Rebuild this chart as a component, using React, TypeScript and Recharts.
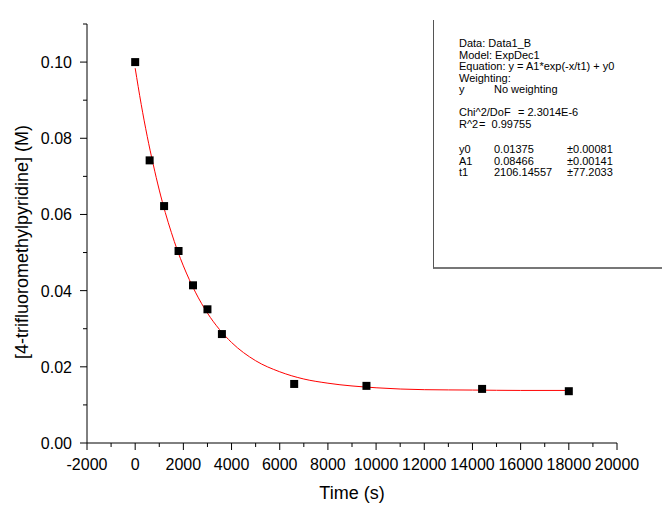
import React from "react";
import {
  ComposedChart,
  Scatter,
  Line,
  XAxis,
  YAxis,
  Label,
} from "recharts";

// measured points
const timeS = [0, 600, 1200, 1800, 2400, 3000, 3600, 6600, 9600, 14400, 18000];
const concM = [0.1, 0.0742, 0.0622, 0.0504, 0.0414, 0.0351, 0.0286, 0.0155, 0.015, 0.0142, 0.0136];

// red fit line
const fitTime = [0, 250, 500, 750, 1000, 1250, 1500, 1750, 2000, 2500, 3000, 3500, 4000, 5000, 6000, 7000, 8000, 10000, 12000, 14000, 16000, 18000];
const fitConc = [0.0984, 0.0889, 0.0805, 0.0731, 0.0664, 0.0605, 0.0553, 0.0506, 0.0465, 0.0396, 0.0341, 0.0298, 0.0264, 0.0216, 0.0187, 0.0168, 0.0157, 0.0145, 0.014, 0.0139, 0.0138, 0.0138];

const xTicks = [-2000, -1000, 0, 1000, 2000, 3000, 4000, 5000, 6000, 7000, 8000, 9000, 10000, 11000, 12000, 13000, 14000, 15000, 16000, 17000, 18000, 19000, 20000];
const yTicks = [0, 0.01, 0.02, 0.03, 0.04, 0.05, 0.06, 0.07, 0.08, 0.09, 0.1, 0.11];

// fit report text: [top (centre y), [[left, text], ...]]
const reportLines: [number, [number, string][]][] = [
  [43, [[25, "Data: Data1_B"]]],
  [54.5, [[25, "Model: ExpDec1"]]],
  [66, [[25, "Equation: y = A1*exp(-x/t1) + y0"]]],
  [77.5, [[25, "Weighting:"]]],
  [89, [[25, "y"], [60, "No weighting"]]],
  [112, [[25, "Chi^2/DoF"], [84, "= 2.3014E-6"]]],
  [123.5, [[25, "R^2"], [45, "=  0.99755"]]],
  [149, [[25, "y0"], [60, "0.01375"], [133, "±0.00081"]]],
  [160.5, [[25, "A1"], [60, "0.08466"], [133, "±0.00141"]]],
  [172, [[25, "t1"], [60, "2106.14557"], [133, "±77.2033"]]],
];

const points = timeS.map((t, i) => ({ x: t, y: concM[i] }));
const fit = fitTime.map((t, i) => ({ x: t, y: fitConc[i] }));

const FONT = "'Liberation Sans', Arial, sans-serif";

const XTick = (props: any) => {
  const { x, y, payload } = props;
  const v = payload.value;
  const major = v % 2000 === 0;
  return (
    <g>
      <line x1={x} x2={x} y1={y} y2={y + (major ? 7 : 4)} stroke="#000" />
      {major && (
        <text x={x} y={y + 27} textAnchor="middle" fontSize={16} fontFamily={FONT} fill="#000">
          {v}
        </text>
      )}
    </g>
  );
};

const YTick = (props: any) => {
  const { x, y, payload } = props;
  const v = payload.value;
  const major = Math.round(v * 100) % 2 === 0;
  return (
    <g>
      <line x1={x - (major ? 7 : 4)} x2={x} y1={y} y2={y} stroke="#000" />
      {major && (
        <text x={x - 15} y={y + 6} textAnchor="end" fontSize={16} fontFamily={FONT} fill="#000">
          {v.toFixed(2)}
        </text>
      )}
    </g>
  );
};

const FitBox = () => (
  <div
    style={{
      position: "absolute",
      left: 433,
      top: 20,
      width: 240,
      height: 249,
      borderLeft: "1px solid #555",
      borderBottom: "2px solid #777",
      fontFamily: FONT,
      fontSize: 11,
      lineHeight: "12px",
      color: "#000",
      boxSizing: "border-box",
    }}
  >
    {reportLines.map(([cy, cells], i) =>
      cells.map(([left, text], j) => (
        <span
          key={`${i}-${j}`}
          style={{ position: "absolute", left, top: cy - 20 - 6, whiteSpace: "pre" }}
        >
          {text}
        </span>
      ))
    )}
  </div>
);

const App: React.FC = () => {
  return (
    <div style={{ position: "absolute", left: 0, top: 0, width: 662, height: 506, overflow: "hidden", background: "#fff" }}>
      <ComposedChart width={662} height={506} margin={{ top: 24, right: 45, bottom: 23, left: 0 }}>
        <XAxis
          dataKey="x"
          type="number"
          domain={[-2000, 20000]}
          ticks={xTicks}
          interval={0}
          tickSize={0}
          tickMargin={0}
          tick={<XTick />}
          height={40}
          stroke="#000"
          allowDataOverflow
        >
          <Label
            content={() => (
              <text x={352} y={499} textAnchor="middle" fontSize={18} fontFamily={FONT} fill="#000">
                Time (s)
              </text>
            )}
          />
        </XAxis>
        <YAxis
          dataKey="y"
          type="number"
          domain={[0, 0.11]}
          ticks={yTicks}
          interval={0}
          tickSize={0}
          tickMargin={0}
          tick={<YTick />}
          width={87}
          stroke="#000"
          allowDataOverflow
        >
          <Label
            content={() => (
              <text
                x={28}
                y={242}
                textAnchor="middle"
                fontSize={18}
                fontFamily={FONT}
                fill="#000"
                transform="rotate(-90 28 242)"
              >
                [4-trifluoromethylpyridine] (M)
              </text>
            )}
          />
        </YAxis>
        <Line
          data={fit}
          dataKey="y"
          type="monotone"
          stroke="#ff0000"
          strokeWidth={1}
          dot={false}
          activeDot={false}
          isAnimationActive={false}
        />
        <Scatter data={points} dataKey="y" fill="#000" shape="square" isAnimationActive={false} />
      </ComposedChart>
      <FitBox />
    </div>
  );
};

export default App;
